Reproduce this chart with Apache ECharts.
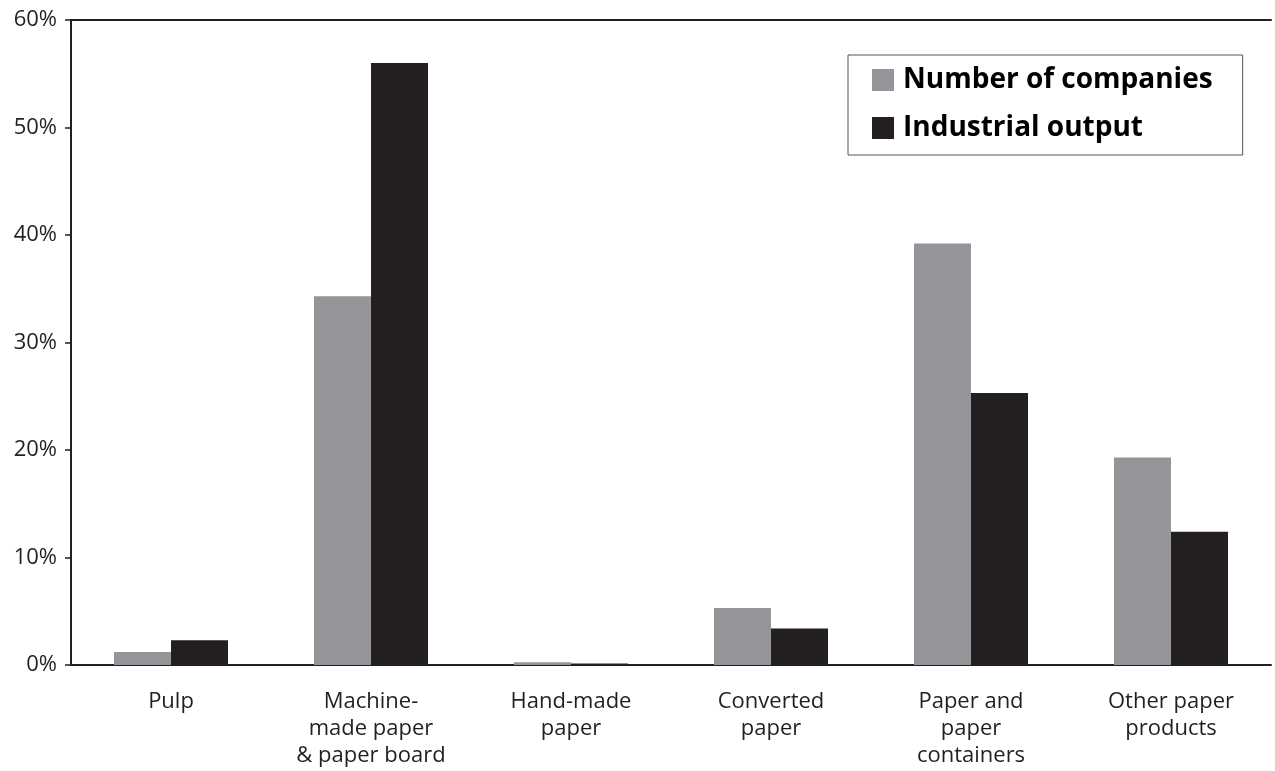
<!DOCTYPE html>
<html>
<head>
<meta charset="utf-8">
<script src="https://cdn.jsdelivr.net/npm/echarts@6/dist/echarts.min.js"></script>
<style>
html,body{margin:0;padding:0;background:#fff;}
#chart{width:1275px;height:771px;}
</style>
</head>
<body>
<div id="chart"></div>
<script>
const categories = ["Pulp", "Machine-\nmade paper\n& paper board", "Hand-made\npaper", "Converted\npaper", "Paper and\npaper\ncontainers", "Other paper\nproducts"];
const companies = [1.2, 34.3, 0.25, 5.3, 39.2, 19.3];
const output = [2.3, 56.0, 0.15, 3.4, 25.3, 12.4];
const yTicks = [0, 10, 20, 30, 40, 50, 60];

const chart = echarts.init(document.getElementById('chart'));
const FONT = '"Open Sans", "Liberation Sans", sans-serif';
const INK = '#231f20';
chart.setOption({
  animation: false,
  backgroundColor: '#ffffff',
  textStyle: { fontFamily: FONT },
  grid: { left: 71, right: 4, top: 20, bottom: 106 },
  legend: {
    orient: 'vertical',
    left: 848, top: 55,
    padding: [11, 30, 13, 24],
    itemWidth: 22, itemHeight: 22, itemGap: 20,
    borderColor: '#555', borderWidth: 1,
    icon: 'rect',
    textStyle: { fontFamily: FONT, fontWeight: 'bold', fontSize: 28, color: '#000', padding: [0, 0, 0, 4] },
    data: ['Number of companies', 'Industrial output']
  },
  xAxis: [{
    type: 'category',
    data: categories,
    axisLine: { lineStyle: { color: INK, width: 2 } },
    axisTick: { length: 8, lineStyle: { color: INK, width: 1.5 } },
    axisLabel: { color: INK, fontSize: 22, lineHeight: 27, margin: 23, interval: 0, fontFamily: FONT }
  }, {
    type: 'category',
    position: 'top',
    data: categories,
    axisLine: { show: true, lineStyle: { color: INK, width: 2 } },
    axisTick: { show: false },
    axisLabel: { show: false }
  }],
  yAxis: {
    type: 'value',
    min: yTicks[0], max: yTicks[yTicks.length - 1], interval: 10,
    splitLine: { show: false },
    axisLine: { show: true, lineStyle: { color: INK, width: 2 } },
    axisTick: { show: true, length: 6, lineStyle: { color: INK, width: 1.5 } },
    axisLabel: { color: INK, fontSize: 22, margin: 14, formatter: '{value}%', fontFamily: FONT }
  },
  series: [{
    name: 'Number of companies',
    type: 'bar',
    data: companies,
    barWidth: 57,
    barGap: '0%',
    itemStyle: { color: '#939598' }
  }, {
    name: 'Industrial output',
    type: 'bar',
    data: output,
    barWidth: 57,
    barGap: '0%',
    itemStyle: { color: INK }
  }]
});
</script>
</body>
</html>
